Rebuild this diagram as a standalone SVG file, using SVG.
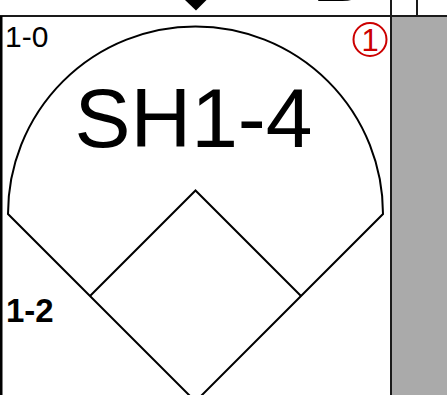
<svg xmlns="http://www.w3.org/2000/svg" width="447" height="395" viewBox="0 0 447 395">
<style>
.ln{fill:none;stroke:#000;stroke-width:2;stroke-linejoin:miter}
.frame{stroke:#1a1a1a;stroke-width:2;fill:none}
.t{font-family:"Liberation Sans",Arial,sans-serif;fill:#000}
</style>
<rect x="0" y="0" width="447" height="395" fill="#fff"/>
<g id="frame">
<rect x="392" y="17" width="55" height="378" fill="#aaaaaa"/>
<line class="frame" x1="0" y1="16" x2="447" y2="16"/>
<line class="frame" x1="391" y1="0" x2="391" y2="395"/>
<line class="frame" x1="417" y1="0" x2="417" y2="16"/>
<line x1="1.25" y1="16" x2="1.25" y2="395" stroke="#000" stroke-width="2.5"/>
<polygon points="184.5,-0.5 207,-0.5 196,10.5" fill="#000"/>
<text class="t" x="311" y="1" font-size="88">B</text>
</g>
<g id="field">
<path class="ln" d="M8,214 A187.5,187.5 0 0 1 383,214 L195.5,401.5 Z"/>
<path class="ln" d="M90,296 L195.5,190.5 L301,296"/>
</g>
<g id="labels">
<text class="t" x="5" y="47" font-size="30">1-0</text>
<text class="t" x="6" y="322" font-size="33" font-weight="bold">1-2</text>
<text class="t" x="193.5" y="147" font-size="84" text-anchor="middle">SH1-4</text>
<circle cx="370" cy="39.5" r="16.5" fill="none" stroke="#cc0000" stroke-width="2"/>
<text class="t" x="370" y="50.5" font-size="31" text-anchor="middle" style="fill:#cc0000">1</text>
</g>
</svg>
